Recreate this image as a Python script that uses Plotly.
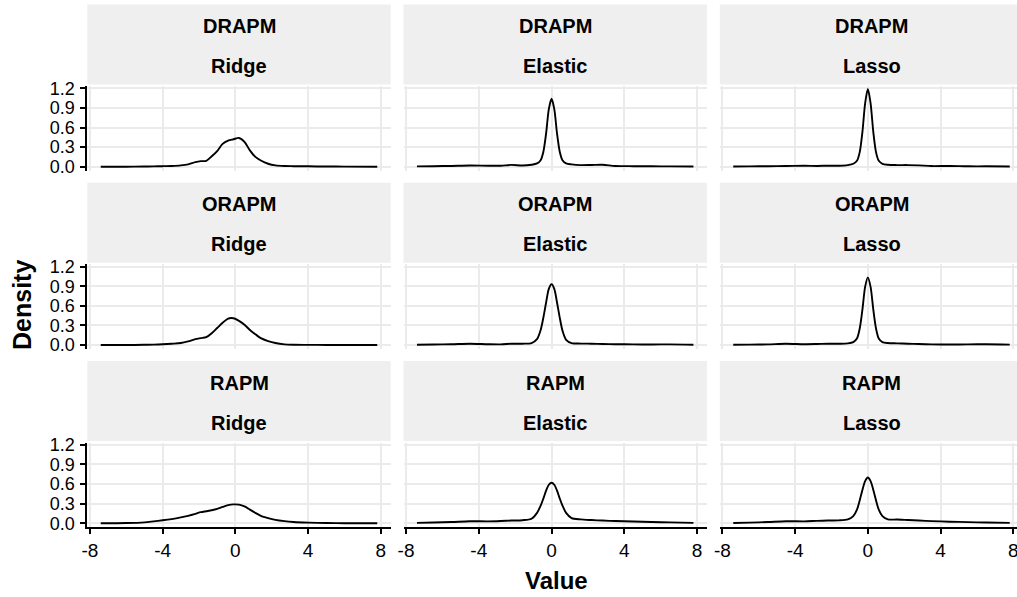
import plotly.graph_objects as go

W, H = 1017, 597

# ---------------- data ----------------
ROWS = ["DRAPM", "ORAPM", "RAPM"]
COLS = ["Ridge", "Elastic", "Lasso"]
X_TICKS = [-8, -4, 0, 4, 8]
X_TICK_TEXT = ["-8", "-4", "0", "4", "8"]
Y_TICKS = [0, 0.3, 0.6, 0.9, 1.2]
Y_TICK_TEXT = ["0.0", "0.3", "0.6", "0.9", "1.2"]

X_RIDGE = [-7.4, -6, -5, -4.5, -4, -3.5, -3, -2.6, -2.2, -1.9, -1.6, -1.3, -1.0, -0.7,
           -0.4, -0.1, 0.2, 0.5, 0.8, 1.1, 1.4, 1.8, 2.2, 2.7, 3.2, 4, 5, 6, 7.8]
X_SPARSE = [-7.4, -6.5, -5.5, -4.5, -3.5, -2.8, -2.2, -1.6, -1.1, -0.8, -0.6, -0.45, -0.3,
            -0.15, 0, 0.15, 0.3, 0.45, 0.6, 0.8, 1.1, 1.6, 2.2, 2.8, 3.5, 4.5, 5.5, 6.5, 7.8]

DRAPM_RIDGE = [0.0, 0.0, 0.003, 0.005, 0.008, 0.012, 0.02, 0.035, 0.07, 0.085, 0.09, 0.16, 0.24, 0.35,
               0.40, 0.42, 0.44, 0.38, 0.25, 0.15, 0.095, 0.045, 0.02, 0.01, 0.008, 0.006, 0.003, 0.002, 0.0]
ORAPM_RIDGE = [0.0, 0.0, 0.003, 0.006, 0.012, 0.02, 0.03, 0.055, 0.09, 0.105, 0.12, 0.18, 0.26, 0.34,
               0.405, 0.41, 0.37, 0.31, 0.23, 0.165, 0.105, 0.06, 0.03, 0.01, 0.004, 0.002, 0.001, 0.0, 0.0]
RAPM_RIDGE = [0.0, 0.004, 0.015, 0.03, 0.046, 0.065, 0.09, 0.115, 0.145, 0.17, 0.185, 0.20, 0.22, 0.25,
              0.278, 0.29, 0.285, 0.258, 0.21, 0.16, 0.115, 0.08, 0.053, 0.033, 0.02, 0.01, 0.004, 0.002, 0.0]

DRAPM_ELASTIC = [0.005, 0.008, 0.012, 0.018, 0.015, 0.015, 0.028, 0.018, 0.03, 0.05, 0.1, 0.23, 0.51,
                 0.88, 1.04, 0.88, 0.51, 0.23, 0.1, 0.05, 0.035, 0.025, 0.027, 0.03, 0.012, 0.008, 0.006, 0.005, 0.004]
ORAPM_ELASTIC = [0.005, 0.008, 0.012, 0.02, 0.012, 0.01, 0.02, 0.02, 0.03, 0.09, 0.23, 0.42, 0.65,
                 0.86, 0.93, 0.86, 0.65, 0.42, 0.22, 0.08, 0.03, 0.022, 0.02, 0.015, 0.012, 0.01, 0.008, 0.01, 0.005]
RAPM_ELASTIC = [0.006, 0.012, 0.02, 0.032, 0.03, 0.035, 0.042, 0.048, 0.07, 0.16, 0.27, 0.38, 0.50,
                0.59, 0.62, 0.59, 0.50, 0.38, 0.27, 0.16, 0.08, 0.06, 0.05, 0.042, 0.035, 0.027, 0.02, 0.014, 0.006]

DRAPM_LASSO = [0.003, 0.005, 0.008, 0.01, 0.015, 0.012, 0.015, 0.015, 0.025, 0.045, 0.09, 0.22, 0.53,
               0.97, 1.19, 0.97, 0.53, 0.22, 0.09, 0.045, 0.03, 0.025, 0.025, 0.02, 0.01, 0.012, 0.006, 0.006, 0.004]
ORAPM_LASSO = [0.004, 0.006, 0.01, 0.02, 0.012, 0.015, 0.02, 0.02, 0.025, 0.045, 0.1, 0.25, 0.54,
               0.89, 1.035, 0.89, 0.54, 0.25, 0.1, 0.045, 0.03, 0.025, 0.02, 0.015, 0.01, 0.008, 0.01, 0.012, 0.006]
RAPM_LASSO = [0.004, 0.01, 0.02, 0.032, 0.03, 0.038, 0.042, 0.045, 0.06, 0.11, 0.21, 0.35, 0.51,
              0.645, 0.70, 0.645, 0.51, 0.35, 0.21, 0.11, 0.06, 0.058, 0.05, 0.042, 0.034, 0.025, 0.018, 0.012, 0.006]

SERIES = {
    ("DRAPM", "Ridge"): (X_RIDGE, DRAPM_RIDGE),
    ("DRAPM", "Elastic"): (X_SPARSE, DRAPM_ELASTIC),
    ("DRAPM", "Lasso"): (X_SPARSE, DRAPM_LASSO),
    ("ORAPM", "Ridge"): (X_RIDGE, ORAPM_RIDGE),
    ("ORAPM", "Elastic"): (X_SPARSE, ORAPM_ELASTIC),
    ("ORAPM", "Lasso"): (X_SPARSE, ORAPM_LASSO),
    ("RAPM", "Ridge"): (X_RIDGE, RAPM_RIDGE),
    ("RAPM", "Elastic"): (X_SPARSE, RAPM_ELASTIC),
    ("RAPM", "Lasso"): (X_SPARSE, RAPM_LASSO),
}

# ---------------- layout geometry (pixels) ----------------
FONT = "Liberation Sans, Arial, Helvetica, sans-serif"
COL_LEFT = [87.3, 403.5, 719.8]
PANEL_W = 303.4
ROW_TOP = [86.0, 264.3, 442.6]
PANEL_H = 84.7
STRIP_H = 80.0
X_RANGE = (-8.14, 8.54)
Y_RANGE = (-0.061, 1.235)


def fx(px):
    return px / W


def fy(py):
    return 1 - py / H


fig = go.Figure()
layout = dict(
    template="none",
    width=W, height=H,
    margin=dict(l=0, r=0, t=0, b=0, pad=0, autoexpand=False),
    paper_bgcolor="white", plot_bgcolor="white",
    showlegend=False,
    font=dict(family=FONT, color="black"),
)
shapes = []
annotations = []

idx = 0
for r, rname in enumerate(ROWS):
    for c, cname in enumerate(COLS):
        idx += 1
        xa = "xaxis" if idx == 1 else f"xaxis{idx}"
        ya = "yaxis" if idx == 1 else f"yaxis{idx}"
        xref = "x" if idx == 1 else f"x{idx}"
        yref = "y" if idx == 1 else f"y{idx}"

        left = COL_LEFT[c]
        right = min(left + PANEL_W, W)
        top = ROW_TOP[r]
        bottom = top + PANEL_H
        xr1 = X_RANGE[0] + (X_RANGE[1] - X_RANGE[0]) * (right - left) / PANEL_W

        bottom_row = r == len(ROWS) - 1
        left_col = c == 0

        layout[xa] = dict(
            domain=[fx(left), fx(right)], anchor=yref, range=[X_RANGE[0], xr1],
            tickmode="array", tickvals=X_TICKS, ticktext=X_TICK_TEXT,
            showgrid=True, gridcolor="#EBEBEB", gridwidth=1.6, zeroline=False,
            showline=bottom_row, linecolor="black", linewidth=1.9,
            ticks="outside" if bottom_row else "", ticklen=5, tickwidth=1.6, tickcolor="black",
            showticklabels=bottom_row, ticklabeloverflow="allow", automargin=False,
            tickfont=dict(family=FONT, size=19, color="black"),
            fixedrange=True,
        )
        layout[ya] = dict(
            domain=[fy(bottom), fy(top)], anchor=xref, range=list(Y_RANGE),
            tickmode="array", tickvals=Y_TICKS, ticktext=Y_TICK_TEXT,
            showgrid=True, gridcolor="#EBEBEB", gridwidth=1.6, zeroline=False,
            showline=left_col, linecolor="black", linewidth=1.9,
            ticks="outside" if left_col else "", ticklen=5, tickwidth=1.6, tickcolor="black",
            showticklabels=left_col, ticklabeloverflow="allow", automargin=False,
            ticklabelstandoff=2,
            tickfont=dict(family=FONT, size=18, color="black"),
            fixedrange=True,
        )

        # strip
        shapes.append(dict(type="rect", xref="paper", yref="paper",
                           x0=fx(left), x1=fx(right), y0=fy(top - 1.5), y1=fy(top - 1.5 - STRIP_H),
                           fillcolor="#EFEFEF", line=dict(width=0), layer="below"))
        cx = fx(left + PANEL_W / 2)
        annotations.append(dict(x=cx, y=fy(top - 60), xref="paper", yref="paper",
                                text=rname, showarrow=False, xanchor="center", yanchor="middle",
                                font=dict(family=FONT, size=20, color="black", weight="bold")))
        annotations.append(dict(x=cx, y=fy(top - 20), xref="paper", yref="paper",
                                text=cname, showarrow=False, xanchor="center", yanchor="middle",
                                font=dict(family=FONT, size=20, color="black", weight="bold")))

        xs, ys = SERIES[(rname, cname)]
        fig.add_trace(go.Scatter(x=xs, y=ys, xaxis=xref, yaxis=yref, mode="lines",
                                 line=dict(color="black", width=1.9, shape="spline", smoothing=0.8),
                                 hoverinfo="skip"))

annotations.append(dict(x=fx(556), y=fy(580), xref="paper", yref="paper", text="Value",
                        showarrow=False, xanchor="center", yanchor="middle",
                        font=dict(family=FONT, size=24, color="black", weight="bold")))
annotations.append(dict(x=fx(22), y=fy(305), xref="paper", yref="paper", text="Density",
                        showarrow=False, xanchor="center", yanchor="middle", textangle=-90,
                        font=dict(family=FONT, size=25, color="black", weight="bold")))

layout["shapes"] = shapes
layout["annotations"] = annotations
fig.update_layout(**layout)
fig.write_html("out.html")
